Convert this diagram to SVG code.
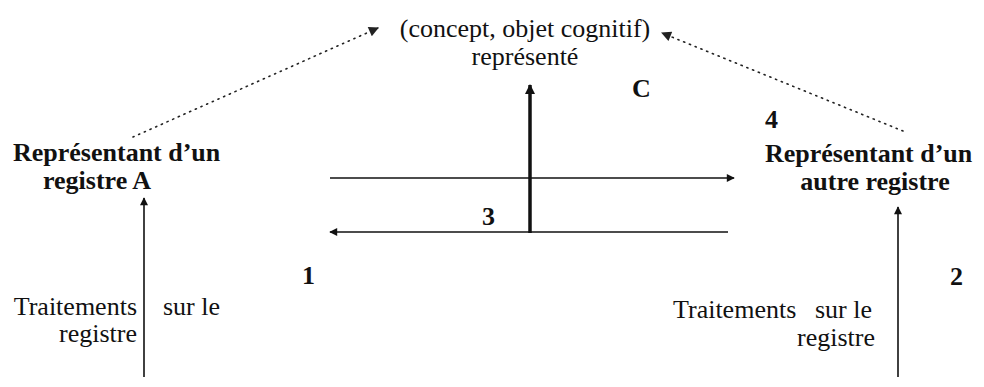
<svg xmlns="http://www.w3.org/2000/svg" width="984" height="387" viewBox="0 0 984 387">
<style>
text{font-family:"Liberation Serif","Times New Roman",serif;font-size:26px;fill:#111}
.b{font-weight:bold}
.ln{stroke:#111;stroke-width:1.6;fill:none}
.dot{stroke:#222;stroke-width:1.6;fill:none;stroke-dasharray:1.2 5;stroke-linecap:round}
</style>
<defs>
<marker id="ah" viewBox="0 0 10 10" refX="9" refY="5" markerWidth="10" markerHeight="8" markerUnits="userSpaceOnUse" orient="auto"><path d="M0,0 L10,5 L0,10 Z" fill="#111"/></marker>
<marker id="ahd" viewBox="0 0 10 10" refX="9" refY="5" markerWidth="12" markerHeight="10" markerUnits="userSpaceOnUse" orient="auto"><path d="M0,0 L10,5 L0,10 Z" fill="#222"/></marker>
<marker id="ahb" viewBox="0 0 10 10" refX="9" refY="5" markerWidth="12" markerHeight="10" markerUnits="userSpaceOnUse" orient="auto"><path d="M0,0 L10,5 L0,10 Z" fill="#111"/></marker>
</defs>
<g id="concept">
<text x="525" y="37" text-anchor="middle">(concept, objet cognitif)</text>
<text x="525" y="65" text-anchor="middle">représenté</text>
</g>
<g id="registreA">
<text class="b" x="13" y="161">Représentant d’un</text>
<text class="b" x="43" y="189">registre A</text>
</g>
<g id="autreRegistre">
<text class="b" x="765" y="162">Représentant d’un</text>
<text class="b" x="875" y="190" text-anchor="middle">autre registre</text>
</g>
<g id="traitementsA">
<text x="137" y="315" text-anchor="end">Traitements</text>
<text x="163" y="315">sur le</text>
<text x="137" y="342" text-anchor="end">registre</text>
</g>
<g id="traitementsB">
<text x="673" y="318">Traitements</text>
<text x="815" y="318">sur le</text>
<text x="875" y="346" text-anchor="end">registre</text>
</g>
<g id="labels">
<text class="b" x="632" y="97">C</text>
<text class="b" x="765" y="128">4</text>
<text class="b" x="482" y="225">3</text>
<text class="b" x="302" y="284">1</text>
<text class="b" x="950" y="285">2</text>
</g>
<g id="connectors">
<line class="dot" x1="133" y1="137" x2="378" y2="28" marker-end="url(#ahd)"/>
<line class="dot" x1="903" y1="131" x2="662" y2="33" marker-end="url(#ahd)"/>
<line class="ln" x1="144" y1="377" x2="144" y2="198" marker-end="url(#ah)"/>
<line class="ln" x1="898" y1="377" x2="898" y2="207" marker-end="url(#ah)"/>
<line class="ln" x1="330" y1="178" x2="734" y2="178" marker-end="url(#ah)"/>
<line class="ln" x1="728" y1="232" x2="330" y2="232" marker-end="url(#ah)"/>
<line class="ln" style="stroke-width:3.5" x1="530" y1="233" x2="530" y2="85" marker-end="url(#ahb)"/>
</g>
</svg>
